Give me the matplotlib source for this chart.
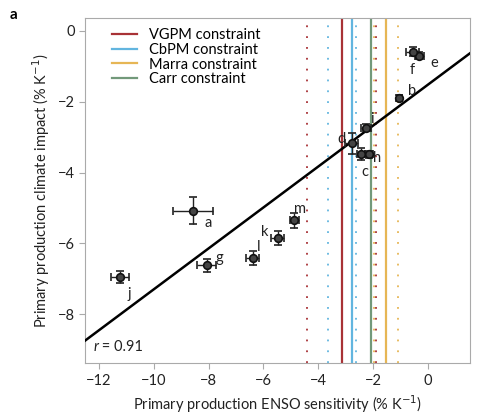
import numpy as np
import matplotlib
matplotlib.use("Agg")
import matplotlib.pyplot as plt

plt.rcParams['font.family'] = ['Lato', 'DejaVu Sans']

# model points
labels = ['a', 'b', 'c', 'd', 'e', 'f', 'g', 'h', 'i', 'j', 'k', 'l', 'm']
enso = [-8.56, -1.04, -2.44, -2.78, -0.31, -0.55, -8.07, -2.15, -2.26, -11.23, -5.48, -6.39, -4.87]
climate = [-5.08, -1.90, -3.47, -3.17, -0.70, -0.58, -6.62, -3.48, -2.73, -6.96, -5.84, -6.41, -5.35]
enso_err = [0.73, 0.08, 0.16, 0.24, 0.16, 0.24, 0.35, 0.16, 0.2, 0.33, 0.24, 0.24, 0.18]
climate_err = [0.38, 0.08, 0.16, 0.3, 0.1, 0.14, 0.19, 0.1, 0.1, 0.17, 0.2, 0.19, 0.21]

# regression line
fit_slope = 0.578
fit_intercept = -1.515
r_value = 0.91

# observational constraints: central value and dotted range lines
constraint_names = ['VGPM constraint', 'CbPM constraint', 'Marra constraint', 'Carr constraint']
constraint_colors = ['#a83236', '#62b5df', '#e6b655', '#72997a']
constraint_mid = [-3.14, -2.76, -1.52, -2.07]
constraint_dots = [[-4.42, -1.88], [-3.65, -2.62], [-1.08, -1.96], []]

# label offsets in points
label_offsets = {'a': (8, -9), 'b': (6, 5), 'c': (0, -13), 'd': (-10, 3), 'e': (8, -5),
                 'f': (-2, -13), 'g': (6, 5), 'h': (3, -3), 'i': (3, 6), 'j': (5, -12),
                 'k': (-12, 4), 'l': (3, 8), 'm': (0, 8)}

fig = plt.figure(figsize=(4.8, 4.16), dpi=100)
ax = fig.add_axes([0.177, 0.127, 0.802, 0.830])

for mid, dots, col, name in zip(constraint_mid, constraint_dots, constraint_colors, constraint_names):
    ax.axvline(mid, color=col, lw=1.6, label=name, zorder=2)
    for d in dots:
        ax.axvline(d, color=col, lw=1.3, ls=(0, (1, 5)), zorder=1)

xs = np.array([-12.6, 1.6])
ax.plot(xs, fit_slope * xs + fit_intercept, color='black', lw=1.8, zorder=3)

ax.errorbar(enso, climate, xerr=enso_err, yerr=climate_err, fmt='o', ms=5.5,
            mfc='#444444', mec='#111111', mew=1.2, ecolor='#222222', elinewidth=1,
            capsize=3, zorder=4)

for lab, x, y in zip(labels, enso, climate):
    dx, dy = label_offsets[lab]
    ax.annotate(lab, (x, y), xytext=(dx, dy), textcoords='offset points',
                ha='left', va='center', fontsize=10.5, color='#222222')

ax.text(-12.2, -9.05, 'r', fontsize=10.5, style='italic', color='#222222')
ax.text(-12.02, -9.05, ' = %.2f' % r_value, fontsize=10.5, color='#222222')

ax.set_xlim(-12.51, 1.53)
ax.set_ylim(-9.38, 0.37)
ax.set_xticks([-12, -10, -8, -6, -4, -2, 0])
ax.set_yticks([0, -2, -4, -6, -8])
ax.set_xticklabels(['\u221212', '\u221210', '\u22128', '\u22126', '\u22124', '\u22122', '0'])
ax.set_yticklabels(['0', '\u22122', '\u22124', '\u22126', '\u22128'])
for sp in ax.spines.values():
    sp.set_color('#aaaaaa')
ax.tick_params(direction='out', color='#aaaaaa', labelsize=10.5, labelcolor='#222222', length=4)

ax.set_xlabel('Primary production ENSO sensitivity (% K$^{-1}$)', fontsize=10.5, color='#222222')
ax.set_ylabel('Primary production climate impact (% K$^{-1}$)', fontsize=10.5, color='#222222')

ax.legend(loc='upper left', frameon=False, fontsize=10.5, handlelength=1.7,
          labelspacing=0.05, borderaxespad=0.3, bbox_to_anchor=(0.045, 1.0))

fig.text(0.02, 0.955, 'a', fontsize=11, fontweight='bold')

fig.savefig('out.png', dpi=100)
